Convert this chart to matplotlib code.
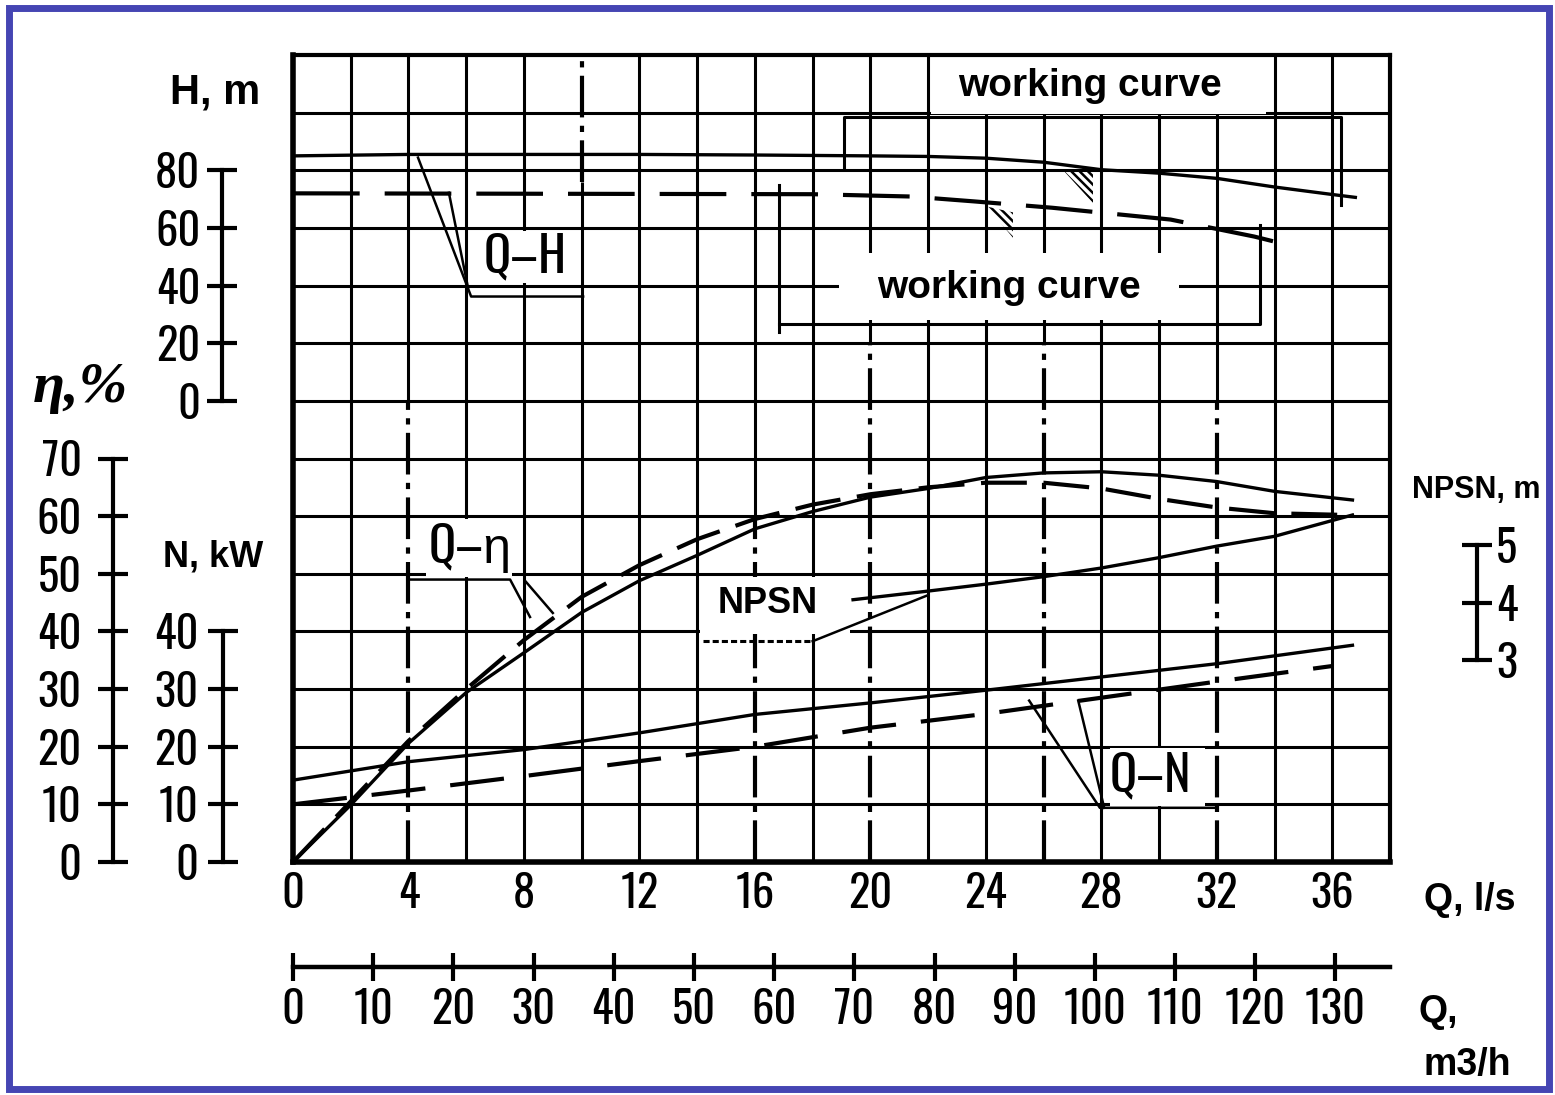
import matplotlib.pyplot as plt
from matplotlib.patches import Rectangle, Polygon

# narrow figures like the drawing; falls back to Liberation Sans
NARROW = ['Oswald', 'Liberation Sans Narrow', 'Liberation Sans', 'DejaVu Sans']
BOLD = ['Liberation Sans', 'DejaVu Sans']
plt.rcParams['font.family'] = NARROW
plt.rcParams['hatch.linewidth'] = 1.8

# ---- values (Q in l/s) ----
q_h_solid = [0, 4, 8, 12, 16, 20, 22, 24, 26, 28, 30, 32, 34, 36, 36.8]
h_solid = [85.0, 85.5, 85.5, 85.5, 85.3, 85.0, 84.8, 84.2, 82.8, 80.2, 79.0, 77.2, 74.2, 71.6, 70.6]
q_h_dash = [0, 18, 21.4, 23.6, 26.3, 28.3, 30.4, 33.3, 34.7]
h_dash = [72.0, 71.7, 70.9, 69.2, 67.0, 65.0, 62.9, 57.0, 53.5]

q_eta_solid = [0, 2, 4, 6, 8, 10, 12, 14, 16, 18, 20, 22, 24, 26, 28, 30, 32, 34, 36.7]
eta_solid = [0, 9.9, 20.6, 29.4, 36.3, 43.3, 48.8, 53.2, 57.8, 60.8, 63.3, 64.8, 66.7, 67.5, 67.7, 67.1, 66.0, 64.3, 62.8]
q_eta_dash = [0, 4, 6, 8, 10, 12, 14, 16, 18, 20, 22, 24, 26, 28, 30, 32, 34, 36.5]
eta_dash = [0, 21, 30, 38.5, 46, 51.5, 56, 59.5, 62, 63.8, 65, 65.8, 65.8, 64.8, 63, 61.5, 60.5, 60.2]

q_n_solid = [0, 4, 8, 12, 16, 20, 24, 28, 32, 36.7]
n_solid = [14.2, 17.4, 19.5, 22.4, 25.6, 27.6, 29.8, 32.1, 34.4, 37.6]
q_n_dash = [0, 4, 8, 12, 16, 20, 24, 28, 32, 36]
n_dash = [10, 12.4, 14.9, 17.5, 20, 23.3, 25.7, 28.5, 31.3, 34]

q_npsn = [19.4, 22, 24, 26, 28, 30, 32, 34, 36.7]
npsn = [4.05, 4.2, 4.32, 4.45, 4.6, 4.78, 4.98, 5.15, 5.52]

q_ticks = list(range(0, 37, 4))
qm_ticks = list(range(0, 131, 10))
h_ticks = [0, 20, 40, 60, 80]
eta_ticks = list(range(0, 71, 10))
n_ticks = [0, 10, 20, 30, 40]
npsn_ticks = [3, 4, 5]

# ---- figure / pixel helpers ----
W, HP = 1555, 1095
fig = plt.figure(figsize=(15.55, 10.95), dpi=100)


def fx(p):
    return p / W


def fy(p):
    return 1 - p / HP


X0, X1, YT, YB = 293, 1390, 55, 862
ax = fig.add_axes([fx(X0), fy(YB), (X1 - X0) / W, (YB - YT) / HP])
ax.set_xlim(0, 38)
ax.set_ylim(0, 14)
ax.set_yticks([])
ax.set_xticks(q_ticks)
ax.tick_params(axis='x', length=0, pad=7, labelsize=32)
for s in ax.spines.values():
    s.set_linewidth(3.0)
ax.spines['left'].set_linewidth(4)
ax.spines['bottom'].set_linewidth(4)

# grid (some verticals are dashed in parts)
dash_sections = {4: (0, 8), 10: (11.8, 14), 16: (0, 6), 20: (0, 9), 26: (0, 9), 32: (0, 8)}
for q in range(2, 38, 2):
    if q in dash_sections:
        lo, hi = dash_sections[q]
        if lo > 0:
            ax.vlines(q, 0, lo, color='k', lw=2.2, zorder=1)
        if hi < 14:
            ax.vlines(q, hi, 14, color='k', lw=2.2, zorder=1)
        ax.plot([q, q], [lo, hi], color='k', lw=3, dashes=(10, 2, 1.5, 2), zorder=1)
    else:
        ax.vlines(q, 0, 14, color='k', lw=2.2, zorder=1)
for u in range(1, 14):
    ax.hlines(u, 0, 38, color='k', lw=2.2, zorder=1)

# white patches behind the labels
for q0, q1, u0, u1 in [(22.1, 33.7, 12.97, 14), (18.9, 30.7, 9.41, 10.57), (14.1, 19.3, 3.96, 4.95),
                       (6.6, 9.9, 10.05, 10.95), (4.6, 7.6, 4.95, 5.95), (28.3, 31.6, 0.98, 1.98)]:
    ax.add_patch(Rectangle((q0, u0), q1 - q0, u1 - u0, facecolor='white', edgecolor='none', zorder=1.5))

# working-curve brackets and hatched marks
ax.plot([19.1, 19.1, 36.3, 36.3], [12.05, 12.93, 12.93, 11.4], color='k', lw=2.2, zorder=3)
ax.plot([16.85, 16.85], [11.75, 9.2], color='k', lw=2.2, zorder=3)
ax.plot([16.85, 33.5, 33.5], [9.33, 9.33, 11.05], color='k', lw=2.2, zorder=3)
ax.add_patch(Polygon([(26.67, 12.01), (27.71, 12.01), (27.71, 11.44)], closed=True, fill=False,
                     hatch='\\\\\\\\', edgecolor='k', lw=0, zorder=3))
ax.add_patch(Polygon([(24.04, 11.37), (24.94, 11.27), (24.94, 10.83)], closed=True, fill=False,
                     hatch='\\\\\\\\', edgecolor='k', lw=0, zorder=3))

# leader lines
lk = dict(color='k', lw=1.8, zorder=4)
ax.plot([10.05, 6.17, 4.33], [9.81, 9.81, 12.22], **lk)
ax.plot([6.06, 5.4], [9.97, 11.61], **lk)
ax.plot([4.0, 7.52, 8.21], [4.9, 4.9, 4.25], **lk)
ax.plot([8.07, 9.0], [4.86, 4.32], **lk)
ax.plot([31.94, 27.95, 25.5], [0.94, 0.94, 2.8], **lk)
ax.plot([28.1, 27.2], [0.94, 2.8], **lk)
ax.plot([14.2, 18.0], [3.83, 3.83], color='k', lw=2.2, dashes=(2, 1), zorder=4)
ax.plot([18.0, 21.95], [3.83, 4.62], **lk)

# labels inside the grid
ax.text(27.6, 13.46, 'working curve', fontsize=28, weight='bold', family=BOLD, ha='center', va='center', zorder=5)
ax.text(24.8, 9.96, 'working curve', fontsize=28, weight='bold', family=BOLD, ha='center', va='center', zorder=5)
ax.text(16.45, 4.48, 'NPSN', fontsize=26, weight='bold', family=BOLD, ha='center', va='center', zorder=5)
ax.text(8.04, 10.5, 'Q–H', fontsize=36, ha='center', va='center', zorder=5)
ax.text(6.13, 5.45, 'Q–η', fontsize=36, ha='center', va='center', zorder=5)
ax.text(29.7, 1.5, 'Q–N', fontsize=36, ha='center', va='center', zorder=5)


# ---- scale bars as twin axes ----
def scale_axis(side, offset_px, lim, bounds, ticks, pad):
    t = ax.twinx()
    t.set_ylim(*lim)
    for s in t.spines.values():
        s.set_visible(False)
    sp = t.spines[side]
    sp.set_visible(True)
    sp.set_position(('outward', offset_px * 0.72))
    sp.set_bounds(*bounds)
    sp.set_linewidth(3)
    if side == 'left':
        t.yaxis.tick_left()
    else:
        t.yaxis.tick_right()
    t.set_yticks(ticks)
    t.tick_params(axis='y', direction='inout', length=21, width=3, labelsize=32, pad=pad)
    return t


ax_eta = scale_axis('left', X0 - 113, (0, 140), (0, 70), eta_ticks, 12)
ax_n = scale_axis('left', X0 - 223, (0, 140), (0, 40), n_ticks, 7)
ax_np = scale_axis('right', 1477 - X1, (-0.5, 13.5), (3, 5), npsn_ticks, 3)
ax_h = scale_axis('left', X0 - 222, (-160, 120), (0, 80), h_ticks, 5)

# curves
ax_h.plot(q_h_solid, h_solid, color='k', lw=2.4)
ax_h.plot(q_h_dash, h_dash, color='k', lw=3, dashes=(16, 6))
ax_eta.plot(q_eta_solid, eta_solid, color='k', lw=2.4)
ax_eta.plot(q_eta_dash, eta_dash, color='k', lw=3, dashes=(11, 4))
ax_n.plot(q_n_solid, n_solid, color='k', lw=2.4)
ax_n.plot(q_n_dash, n_dash, color='k', lw=3, dashes=(13, 6))
ax_np.plot(q_npsn, npsn, color='k', lw=2.4)

# ---- second flow scale, m3/h ----
axm = fig.add_axes([fx(X0), fy(967), (X1 - X0) / W, 0.01])
axm.set_xlim(0, 38 * 3.6)
axm.patch.set_visible(False)
for s in ['left', 'right', 'top']:
    axm.spines[s].set_visible(False)
axm.spines['bottom'].set_linewidth(3.2)
axm.set_yticks([])
axm.set_xticks(qm_ticks)
axm.tick_params(axis='x', direction='inout', length=20, width=3, labelsize=32, pad=5)

# ---- axis titles ----
fig.text(fx(215), fy(92), 'H, m', fontsize=30, weight='bold', family=BOLD, ha='center', va='center')
fig.text(fx(80), fy(388), 'η,%', fontsize=42, weight='bold', style='italic',
         family=['Liberation Serif', 'DejaVu Serif'], ha='center', va='center')
fig.text(fx(213), fy(557), 'N, kW', fontsize=26, weight='bold', family=BOLD, ha='center', va='center')
fig.text(fx(1476), fy(490), 'NPSN, m', fontsize=22, weight='bold', family=BOLD, ha='center', va='center')
fig.text(fx(1470), fy(900), 'Q, l/s', fontsize=27, weight='bold', family=BOLD, ha='center', va='center')
fig.text(fx(1418), fy(1012), 'Q,', fontsize=27, weight='bold', family=BOLD, ha='left', va='center')
fig.text(fx(1467), fy(1065), 'm3/h', fontsize=27, weight='bold', family=BOLD, ha='center', va='center')

# blue frame
fig.patches.append(Rectangle((fx(8.5), fy(1088.5)), (1549 - 8.5) / W, (1088.5 - 7.5) / HP,
                             transform=fig.transFigure, fill=False, edgecolor='#4545b3', lw=5))

fig.savefig('out.png', dpi=100)
